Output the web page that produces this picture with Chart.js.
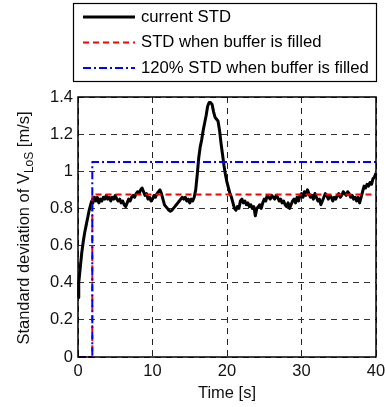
<!DOCTYPE html>
<html>
<head>
<meta charset="utf-8">
<script src="https://cdn.jsdelivr.net/npm/chart.js@4.4.0/dist/chart.umd.min.js"></script>
<style>
  html, body { margin: 0; padding: 0; background: #fff; }
  #wrap { width: 385px; height: 407px; }
</style>
</head>
<body>
<div id="wrap"><canvas id="chart" width="385" height="407"></canvas></div>
<script>
// time axis [s] and current STD readings
const timeS = [0, 0.1, 0.2, 0.35, 0.5, 0.7, 0.9, 1.1, 1.3, 1.5, 1.7, 1.85,
  2.0, 2.2, 2.4, 2.6, 2.8, 3.0, 3.2, 3.4, 3.6, 3.8, 4.0, 4.2, 4.4, 4.6, 4.8,
  5.0, 5.2, 5.4, 5.6, 5.8, 6.0, 6.2, 6.4, 6.6, 6.8, 7.0, 7.2, 7.4, 7.6, 7.8,
  8.0, 8.2, 8.4, 8.6, 8.8, 9.0, 9.2, 9.4, 9.6, 9.8, 10.0, 10.2, 10.4, 10.6, 10.8,
  11.0, 11.2, 11.4, 11.6, 11.8, 12.0, 12.2, 12.4, 12.6, 12.8, 13.0, 13.2, 13.4, 13.6, 13.8,
  14.0, 14.2, 14.4, 14.6, 14.8, 15.0, 15.2, 15.4, 15.6, 15.8, 16.0, 16.2, 16.4, 16.6, 16.8,
  17.0, 17.2, 17.4, 17.6, 17.8, 18.0, 18.2, 18.4, 18.6, 18.8, 19.0, 19.2, 19.4, 19.6, 19.8,
  20.0, 20.2, 20.4, 20.6, 20.8, 21.0, 21.2, 21.4, 21.6, 21.8, 22.0, 22.2, 22.4, 22.6, 22.8,
  23.0, 23.2, 23.4, 23.6, 23.8, 24.0, 24.2, 24.4, 24.6, 24.8, 25.0, 25.2, 25.4, 25.6, 25.8,
  26.0, 26.2, 26.4, 26.6, 26.8, 27.0, 27.2, 27.4, 27.6, 27.8, 28.0, 28.2, 28.4, 28.6, 28.8,
  29.0, 29.2, 29.4, 29.6, 29.8, 30.0, 30.2, 30.4, 30.6, 30.8, 31.0, 31.2, 31.4, 31.6, 31.8,
  32.0, 32.2, 32.4, 32.6, 32.8, 33.0, 33.2, 33.4, 33.6, 33.8, 34.0, 34.2, 34.4, 34.6, 34.8,
  35.0, 35.2, 35.4, 35.6, 35.8, 36.0, 36.2, 36.4, 36.6, 36.8, 37.0, 37.2, 37.4, 37.6, 37.8,
  38.0, 38.2, 38.4, 38.6, 38.8, 39.0, 39.2, 39.4, 39.6, 39.8, 40.0];
const currentStd = [0.32, 0.40, 0.44, 0.50, 0.56, 0.62, 0.67, 0.71, 0.75, 0.79, 0.82, 0.84,
  0.83, 0.86, 0.84, 0.86, 0.83, 0.85, 0.84, 0.86, 0.85, 0.87, 0.85, 0.86, 0.84, 0.86, 0.85,
  0.87, 0.85, 0.84, 0.85, 0.83, 0.84, 0.82, 0.81, 0.83, 0.85, 0.84, 0.86, 0.87, 0.86, 0.88,
  0.89, 0.88, 0.90, 0.91, 0.89, 0.87, 0.88, 0.85, 0.86, 0.84, 0.85, 0.87, 0.86, 0.88, 0.89,
  0.90, 0.88, 0.85, 0.82, 0.81, 0.80, 0.79, 0.785, 0.79, 0.80, 0.81, 0.82, 0.83, 0.84, 0.85,
  0.86, 0.85, 0.86, 0.84, 0.85, 0.83, 0.85, 0.84, 0.86, 0.90, 0.98, 1.07, 1.13, 1.17, 1.22,
  1.26, 1.30, 1.35, 1.37, 1.37, 1.36, 1.32, 1.29, 1.28, 1.27, 1.22, 1.15, 1.09, 1.03, 0.98,
  0.94, 0.91, 0.88, 0.86, 0.83, 0.80, 0.79, 0.81, 0.80, 0.84, 0.85, 0.83, 0.84, 0.82, 0.83,
  0.81, 0.82, 0.80, 0.81, 0.76, 0.80, 0.81, 0.82, 0.80, 0.83, 0.85, 0.84, 0.87, 0.86, 0.85,
  0.87, 0.86, 0.85, 0.87, 0.86, 0.84, 0.85, 0.83, 0.84, 0.82, 0.81, 0.83, 0.80, 0.82, 0.84,
  0.85, 0.83, 0.86, 0.84, 0.87, 0.88, 0.86, 0.89, 0.87, 0.90, 0.88, 0.86, 0.87, 0.85, 0.88,
  0.86, 0.84, 0.85, 0.82, 0.84, 0.86, 0.88, 0.87, 0.85, 0.87, 0.86, 0.84, 0.86, 0.85, 0.87,
  0.88, 0.86, 0.87, 0.89, 0.88, 0.87, 0.89, 0.88, 0.86, 0.87, 0.85, 0.86, 0.84, 0.86, 0.83,
  0.86, 0.89, 0.92, 0.91, 0.93, 0.92, 0.94, 0.93, 0.96, 0.97, 0.99];

// step lines: zero until the buffer is filled, then constant
const fillTimeS = [0, 1.92, 1.92, 40];
const filledStd = [0, 0, 0.875, 0.875];
const filledStd120 = [0, 0, 1.05, 1.05];

const xTicks = [0, 10, 20, 30, 40];
const yTicks = [0, 0.2, 0.4, 0.6, 0.8, 1, 1.2, 1.4];

const FONT = '"Liberation Sans", Arial, sans-serif';
const FS = 16.5;
const toPoints = (xs, ys) => xs.map((x, i) => ({ x, y: ys[i] }));

const datasets = [
  { label: 'current STD', data: toPoints(timeS, currentStd), borderColor: '#000',
    borderWidth: 3, order: 2 },
  { label: 'STD when buffer is filled', data: toPoints(fillTimeS, filledStd), borderColor: '#ff0000',
    borderWidth: 2, borderDash: [6, 4], order: 1 },
  { label: '120% STD when buffer is filled', data: toPoints(fillTimeS, filledStd120), borderColor: '#0000ff',
    borderWidth: 2, borderDash: [8, 3, 2, 3], order: 0 }
];

// box around axes + legend + y title with subscript
const decorations = {
  id: 'decorations',
  afterDraw(chart) {
    const { ctx, chartArea: a } = chart;
    ctx.save();
    ctx.strokeStyle = '#000';
    ctx.lineWidth = 1.5;
    ctx.setLineDash([]);
    ctx.strokeRect(a.left, a.top, a.right - a.left, a.bottom - a.top);

    // legend
    ctx.lineWidth = 1.2;
    ctx.strokeRect(73.5, 3.5, 303, 78);
    ctx.font = '16.7px ' + FONT;
    ctx.fillStyle = '#000';
    ctx.textBaseline = 'middle';
    chart.data.datasets.forEach((ds, i) => {
      const y = 17 + i * 25.5;
      ctx.beginPath();
      ctx.strokeStyle = ds.borderColor;
      ctx.lineWidth = ds.borderWidth;
      ctx.setLineDash(ds.borderDash || []);
      ctx.moveTo(83, y);
      ctx.lineTo(135, y);
      ctx.stroke();
      ctx.fillText(ds.label, 141, y);
    });

    // y axis title
    ctx.translate(23, 228);
    ctx.rotate(-Math.PI / 2);
    const main = 'Standard deviation of V';
    const sub = 'LoS';
    const tail = ' [m/s]';
    ctx.font = FS + 'px ' + FONT;
    const w1 = ctx.measureText(main).width;
    const w3 = ctx.measureText(tail).width;
    ctx.font = '12px ' + FONT;
    const w2 = ctx.measureText(sub).width;
    let x = -(w1 + w2 + w3) / 2;
    ctx.textBaseline = 'alphabetic';
    ctx.fillStyle = '#111';
    ctx.font = FS + 'px ' + FONT;
    ctx.fillText(main, x, 6);
    x += w1;
    ctx.font = '12px ' + FONT;
    ctx.fillText(sub, x, 10);
    x += w2;
    ctx.font = FS + 'px ' + FONT;
    ctx.fillText(tail, x, 6);
    ctx.restore();
  }
};

new Chart(document.getElementById('chart'), {
  type: 'line',
  data: { datasets },
  options: {
    responsive: false,
    animation: false,
    events: [],
    layout: { padding: { top: 97, right: 9, left: 0, bottom: 0 } },
    elements: {
      point: { radius: 0 },
      line: { tension: 0, fill: false, borderJoinStyle: 'round' }
    },
    datasets: { line: { clip: 4 } },
    plugins: { legend: { display: false }, tooltip: { enabled: false } },
    scales: {
      x: {
        type: 'linear', min: 0, max: 40,
        afterBuildTicks: (axis) => { axis.ticks = xTicks.map(v => ({ value: v })); },
        afterFit: (axis) => {
          axis.height = 50;
          axis.paddingLeft = 0;
          axis.paddingRight = 0;
        },
        grid: { color: '#222', lineWidth: 1, drawTicks: false },
        border: { display: false, dash: [6, 5] },
        ticks: { color: '#111', font: { family: FONT, size: FS }, padding: 5, maxRotation: 0 },
        title: { display: true, text: 'Time [s]', color: '#111', font: { family: FONT, size: FS }, padding: { top: 1 } }
      },
      y: {
        type: 'linear', min: 0, max: 1.4,
        afterBuildTicks: (axis) => { axis.ticks = yTicks.map(v => ({ value: v })); },
        afterFit: (axis) => { axis.width = 78; },
        grid: { color: '#333', lineWidth: 1, drawTicks: false },
        border: { display: false, dash: [6, 5] },
        ticks: { color: '#111', font: { family: FONT, size: FS }, padding: 5,
          callback: (v) => String(Math.round(v * 10) / 10) }
      }
    }
  },
  plugins: [decorations]
});
</script>
</body>
</html>
